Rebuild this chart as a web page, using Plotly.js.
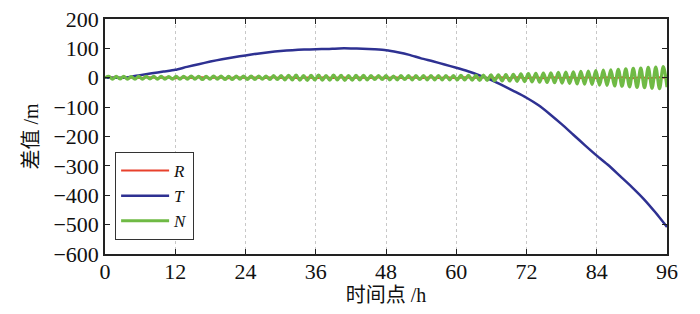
<!DOCTYPE html>
<html>
<head>
<meta charset="utf-8">
<script src="https://cdn.plot.ly/plotly-3.0.1.min.js"></script>
<style>
html,body{margin:0;padding:0;background:#fff;}
#chart{width:700px;height:314px;}
</style>
</head>
<body>
<div id="chart"></div>
<script>
// Time axis ticks (h)
var xTicks = [0, 12, 24, 36, 48, 60, 72, 84, 96];
var yTicks = [-600, -500, -400, -300, -200, -100, 0, 100, 200];

// T component, sampled every 2 h from 0 to 96 h
var tStart = 0, tStep = 2;
var seriesT = [0, 0, 2, 9, 15, 21, 27, 37, 46, 55, 63, 70, 76, 82, 87, 91, 94, 96, 97, 98, 100, 100, 99, 97, 94,
  87, 78, 66, 56, 45, 34, 22, 8, -8, -27, -47, -68, -93, -124, -158, -194, -230, -265, -298, -335, -372, -412, -458, -508];

// R component, sampled every 1.5 h
var rStart = 0, rStep = 1.5;
var seriesR = [0, 1, -1, 1, -1, 2, -1, 1, -2, 1,
  -1, 2, -1, 1, -2, 2, -1, 1, -2, 2,
  -1, 2, -2, 1, -2, 2, -1, 2, -2, 1,
  -2, 2, -1, 2, -2, 1, -2, 2, -1, 2,
  -2, 2, -1, 2, -2, 2, -1, 2, -2, 2,
  -2, 2, -1, 2, -2, 2, -2, 2, -1, 2,
  -2, 2, -2, 2, -1];

// N component, sampled every 0.64 h (peaks / troughs)
var nStart = 0, nStep = 0.64;
var seriesN = [0, 5, -5, 5, -4, 5, -5, 4, -5, 5,
  -5, 5, -4, 5, -5, 5, -5, 4, -5, 5,
  -5, 5, -5, 6, -5, 5, -6, 5, -5, 6,
  -5, 6, -6, 5, -6, 6, -5, 6, -6, 6,
  -6, 6, -5, 6, -6, 7, -6, 7, -7, 8,
  -7, 9, -8, 7, -9, 8, -7, 9, -8, 7,
  -8, 9, -7, 8, -9, 7, -8, 8, -7, 8,
  -7, 7, -6, 7, -6, 7, -7, 6, -7, 7,
  -6, 7, -7, 7, -6, 7, -7, 7, -7, 7,
  -7, 7, -7, 7, -7, 8, -7, 8, -8, 8,
  -9, 9, -9, 10, -10, 10, -11, 11, -11, 12,
  -12, 13, -13, 14, -14, 15, -15, 16, -16, 17,
  -17, 18, -18, 19, -19, 20, -21, 22, -22, 23,
  -23, 24, -25, 26, -26, 27, -28, 29, -29, 30,
  -31, 32, -33, 33, -34, 35, -36, 36, -37, 38, -32];

var names = ['<i>R</i>', '<i>T</i>', '<i>N</i>'];
var colors = ['#e8412c', '#2e3192', '#6fba45'];
var xTitle = '时间点 /h';
var yTitle = '差值 /m';

var SERIF = "Liberation Serif";
var MIXED = "Liberation Serif, Noto Sans CJK SC";

var traces = [
  {type: 'scatter', mode: 'lines', name: names[0], x0: rStart, dx: rStep, y: seriesR,
   line: {color: colors[0], width: 2}},
  {type: 'scatter', mode: 'lines', name: names[1], x0: tStart, dx: tStep, y: seriesT,
   line: {color: colors[1], width: 2.5, shape: 'spline', smoothing: 0.6}},
  {type: 'scatter', mode: 'lines', name: names[2], x0: nStart, dx: nStep, y: seriesN,
   line: {color: colors[2], width: 3.2, shape: 'spline', smoothing: 1}}
];

var layout = {
  width: 700, height: 314,
  margin: {l: 105, r: 33, t: 19, b: 60},
  paper_bgcolor: '#fff', plot_bgcolor: '#fff',
  font: {family: SERIF, size: 22, color: '#111'},
  showlegend: true,
  legend: {
    x: 0.018, y: 0.434, xanchor: 'left', yanchor: 'top',
    bgcolor: '#fff', bordercolor: '#333', borderwidth: 1,
    font: {family: SERIF, size: 17, color: '#111'},
    itemwidth: 48,
    tracegroupgap: 0
  },
  xaxis: {
    range: [0, 96], tickvals: xTicks, ticktext: xTicks.map(String),
    showgrid: true, gridcolor: '#c8c8c8', griddash: 'dot', gridwidth: 1,
    zeroline: false, showline: true, linecolor: '#222', linewidth: 1.5, mirror: 'ticks',
    ticks: 'inside', ticklen: 5, tickcolor: '#222', ticklabelstandoff: -3,
    tickfont: {family: SERIF, size: 22, color: '#111'},
    title: {text: xTitle, font: {family: MIXED, size: 20, color: '#111'}, standoff: 0}
  },
  yaxis: {
    range: [-600, 200], tickvals: yTicks,
    showgrid: false, zeroline: false,
    showline: true, linecolor: '#222', linewidth: 1.5, mirror: 'ticks',
    ticks: 'inside', ticklen: 5, tickcolor: '#222',
    tickfont: {family: SERIF, size: 22, color: '#111'},
    title: {text: yTitle, font: {family: MIXED, size: 20, color: '#111'}, standoff: 9}
  }
};

Plotly.newPlot('chart', traces, layout, {displayModeBar: false});
</script>
</body>
</html>
